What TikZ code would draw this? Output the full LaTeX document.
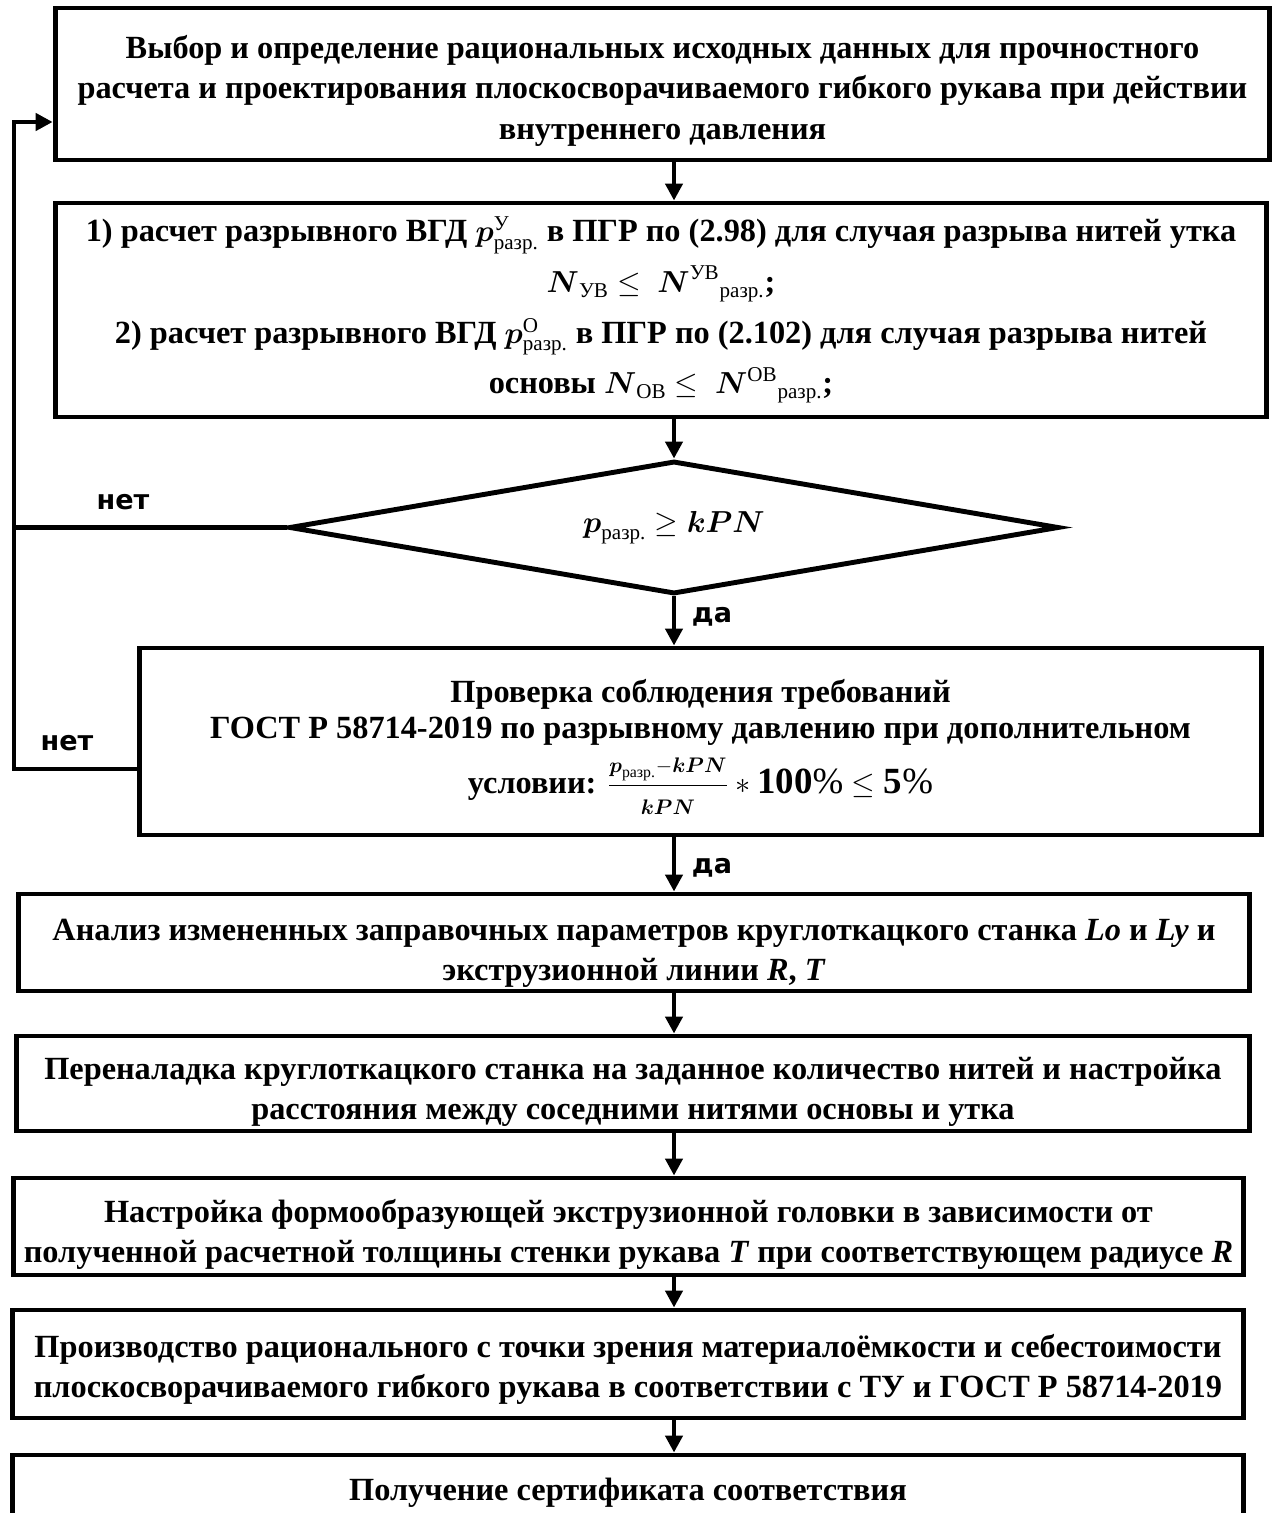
\documentclass[tikz,border=0pt]{standalone}
\usepackage{amsmath}
\usepackage{fontspec}
\setmainfont{Liberation Serif}
\newfontfamily\labelfont{DejaVu Sans}
\usetikzlibrary{shapes.geometric,arrows.meta}
\DeclareMathSizes{18.4}{17}{12}{9}
\newcommand{\rz}{\textnormal{разр.}}
\newcommand{\tn}[1]{\textnormal{#1}}
\newcommand{\bignum}[1]{\text{\fontsize{21}{21}\selectfont#1}}
\newcommand{\sk}[1]{\rule{0pt}{#1}}

\begin{document}
\begin{tikzpicture}[x=0.02cm,y=-0.02cm,>={Triangle[length=0.34cm,width=0.34cm]},
  line width=2.8pt,
  block node/.style={rectangle,draw,align=center,inner sep=0pt,
    font=\bfseries\fontsize{18.4}{22.8}\selectfont},
  cond node/.style={diamond,draw,inner sep=0pt,aspect=5.79,
    font=\bfseries\fontsize{18.4}{22.8}\selectfont},
  label node/.style={font=\labelfont\bfseries\fontsize{15.4}{18}\selectfont}]

  \useasboundingbox (0,0) rectangle (1274,1513);
  \clip (0,0) rectangle (1274,1513);

  \node[block node, minimum width=24.3cm, minimum height=3.04cm] (1) at (662.5,84)
    {\sk{21pt}Выбор и определение рациональных исходных данных для прочностного\\
     расчета и проектирования плоскосворачиваемого гибкого рукава при действии\\
     внутреннего давления};
  \node[block node, minimum width=24.22cm, minimum height=4.28cm] (2) at (661,310)
    {1) расчет разрывного ВГД $\boldsymbol{p}^{\tn{У}}_{\rz}$ в ПГР по (2.98) для случая разрыва нитей утка\\[6pt]
     $\boldsymbol{N}_{\tn{УВ}}\leq\ \boldsymbol{N}^{\tn{УВ}}{}_{\rz}$;\\[6pt]
     2) расчет разрывного ВГД $\boldsymbol{p}^{\tn{О}}_{\rz}$ в ПГР по (2.102) для случая разрыва нитей\\[6pt]
     основы $\boldsymbol{N}_{\tn{ОВ}}\leq\ \boldsymbol{N}^{\tn{ОВ}}{}_{\rz}$;};
  \node[cond node, minimum width=15.4cm, minimum height=2.66cm] (3) at (674,527.5)
    {$\boldsymbol{p}_{\rz}\geq\boldsymbol{kPN}$};
  \node[block node, minimum width=22.46cm, minimum height=3.74cm] (4) at (700.5,741.5)
    {\sk{19pt}Проверка соблюдения требований\\[-2pt]
     ГОСТ Р 58714-2019 по разрывному давлению при дополнительном\\[6pt]
     условии: $\genfrac{}{}{}{0}{\scriptstyle\boldsymbol{p}_{\rz}-\boldsymbol{kPN}}{\scriptstyle\boldsymbol{kPN}}\ast
       \bignum{100\tn{\%}}\leq\bignum{5\tn{\%}}$};
  \node[block node, minimum width=24.64cm, minimum height=1.94cm] (5) at (634,942.5)
    {\sk{24pt}Анализ измененных заправочных параметров круглоткацкого станка \textit{Lo} и \textit{Ly} и\\
     экструзионной линии \textit{R}, \textit{T}};
  \node[block node, minimum width=24.68cm, minimum height=1.9cm] (6) at (633,1083.5)
    {\sk{22pt}Переналадка круглоткацкого станка на заданное количество нитей и настройка\\
     расстояния между соседними нитями основы и утка};
  \node[block node, minimum width=24.62cm, minimum height=1.94cm] (7) at (628.5,1226.5)
    {\sk{22pt}Настройка формообразующей экструзионной головки в зависимости от\\
     полученной расчетной толщины стенки рукава \textit{T} при соответствующем радиусе \textit{R}};
  \node[block node, minimum width=24.64cm, minimum height=2.16cm] (8) at (628,1364)
    {\sk{19pt}Производство рационального с точки зрения материалоёмкости и себестоимости\\
     плоскосворачиваемого гибкого рукава в соответствии с ТУ и ГОСТ Р 58714-2019};
  \node[block node, minimum width=24.64cm, minimum height=1.52cm] (9) at (628,1493)
    {Получение сертификата соответствия};

  \node[label node] (10) at (123,502) {нет};
  \node[label node] (11) at (67,743) {нет};
  \node[label node] (12) at (712,617) {да};
  \node[label node] (13) at (712,868) {да};

  \coordinate (a1) at (14,122);
  \coordinate (a4) at (14,769);

  \path[->]
    (1.south -| 3) edge (2.north -| 3)
    (2.south -| 3) edge (3.north)
    (3.south)      edge (4.north -| 3)
    (4.south -| 3) edge (5.north -| 3)
    (5.south -| 3) edge (6.north -| 3)
    (6.south -| 3) edge (7.north -| 3)
    (7.south -| 3) edge (8.north -| 3)
    (8.south -| 3) edge (9.north -| 3);

  % loops back to the first block
  \draw[->] (4.west |- a4) -| (a1) -- (1.west |- a1);
  \draw (3.west) -- (3.west -| a1);

\end{tikzpicture}
\end{document}
